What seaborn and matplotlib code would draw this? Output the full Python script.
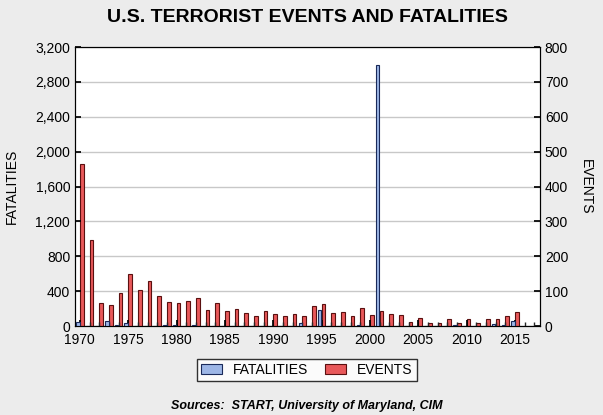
import matplotlib
matplotlib.use("Agg")
import matplotlib.pyplot as plt
import seaborn as sns
import numpy as np
from matplotlib.ticker import FuncFormatter, MultipleLocator

years = list(range(1970, 2016))
events = [465, 247, 65, 59, 95, 149, 104, 129, 87, 70, 67, 73, 79, 45, 65, 42, 49, 36, 28, 42,
          33, 30, 33, 28, 56, 62, 36, 41, 30, 52, 32, 42, 33, 32, 11, 22, 8, 10, 19, 10,
          19, 10, 19, 19, 28, 39]
fatalities = [42, 5, 5, 53, 10, 30, 2, 2, 2, 10, 10, 2, 10, 2, 2, 2, 2, 2, 2, 2,
              2, 2, 2, 30, 2, 179, 2, 2, 2, 10, 2, 2990, 5, 2, 2, 2, 2, 2, 2, 10,
              2, 2, 2, 20, 10, 53]

sns.set_theme(style="white")
plt.rcParams['font.family'] = ['Liberation Sans', 'DejaVu Sans']
plt.rcParams['text.color'] = 'black'
fig = plt.figure(figsize=(6.03, 4.15), dpi=100, facecolor="#ececec")
ax = fig.add_axes([75/603, 1-326/415, 465/603, 279/415])
ax2 = ax.twinx()
x = np.array(years)
w = 0.36
ax.bar(x - 0.2, fatalities, width=w, color="#9db6e6", edgecolor="#1a2a5a", linewidth=0.8, label="FATALITIES", zorder=3)
ax2.bar(x + 0.2, events, width=w, color="#e8585a", edgecolor="#5a1010", linewidth=0.8, label="EVENTS", zorder=3)
ax.set_ylim(0, 3200)
ax2.set_ylim(0, 800)
ax.set_xlim(1969.5, 2017.6)
ax.yaxis.set_major_locator(MultipleLocator(400))
ax2.yaxis.set_major_locator(MultipleLocator(100))
ax.yaxis.set_major_formatter(FuncFormatter(lambda v, p: f"{int(v):,}"))
ax.xaxis.set_major_locator(MultipleLocator(5))
ax.xaxis.set_minor_locator(MultipleLocator(1))
ax2.grid(axis="y", color="#c8c8c8", linewidth=1, zorder=0)
for a in (ax, ax2):
    for s in a.spines.values():
        s.set_color("black"); s.set_linewidth(0.8)
    a.tick_params(labelsize=10, colors="black", length=4)
ax.tick_params(axis="x", which="both", bottom=True, direction="in", pad=5)
ax.tick_params(axis="x", which="minor", length=3)
ax2.tick_params(axis="y", right=True, direction="in")
ax.tick_params(axis="y", left=True, direction="in")
ax.set_ylabel("FATALITIES", fontsize=10, color="black", labelpad=12)
ax2.set_ylabel("EVENTS", fontsize=10, color="black", rotation=270, labelpad=18)
ax.set_zorder(2); ax2.set_zorder(1)
ax.patch.set_visible(False)
ax2.patch.set_visible(True); ax2.patch.set_facecolor("white")
h1, l1 = ax.get_legend_handles_labels()
h2, l2 = ax2.get_legend_handles_labels()
leg = fig.legend(h1 + h2, l1 + l2, loc="center", bbox_to_anchor=(307/603, 1-370/415), ncol=2,
           frameon=True, fancybox=False, edgecolor="black", fontsize=10, handlelength=1.5,
           borderpad=0.3, columnspacing=1.2)
leg.get_frame().set_facecolor("white")
fig.text(307/603, 1-17/415, "U.S. TERRORIST EVENTS AND FATALITIES", ha="center", va="center",
         fontsize=14, fontweight="bold", color="black")
fig.text(307/603, 1-406/415, "Sources:  START, University of Maryland, CIM", ha="center", va="center",
         fontsize=9, fontweight="bold", style="italic", color="black")
fig.savefig("out.png", dpi=100, facecolor=fig.get_facecolor())
